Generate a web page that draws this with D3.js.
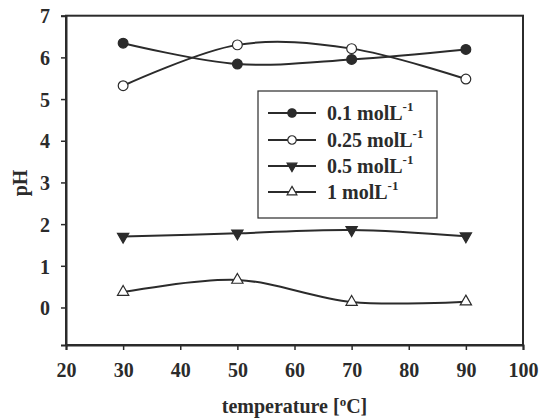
<!DOCTYPE html>
<html><head><meta charset="utf-8">
<script src="https://cdn.jsdelivr.net/npm/d3@7"></script>
<style>body{margin:0;background:#fff}svg{display:block}</style>
</head><body><svg id="c" width="543" height="418"></svg>
<script>
const temps = [30, 50, 70, 90];
const ph01 = [6.34, 5.84, 5.95, 6.19];
const ph025 = [5.32, 6.30, 6.21, 5.48];
const ph05 = [1.70, 1.78, 1.86, 1.71];
const ph1 = [0.37, 0.66, 0.13, 0.14];
const seriesNames = ["0.1 molL", "0.25 molL", "0.5 molL", "1 molL"];
const xTicks = [20, 30, 40, 50, 60, 70, 80, 90, 100];
const yTicks = [0, 1, 2, 3, 4, 5, 6, 7];

const ink = "#2b2b2b";
const svg = d3.select("#c");
const L = 66, R = 523, T = 15.7, B = 345;
const x = d3.scaleLinear().domain([20, 100]).range([L, R]);
const y = d3.scaleLinear().domain([-0.9, 7]).range([B, T]);
const font = "'Liberation Serif', 'Times New Roman', serif";

// frame
svg.append("rect").attr("x", L).attr("y", T).attr("width", R - L).attr("height", B - T)
  .attr("fill", "none").attr("stroke", ink).attr("stroke-width", 2);

const xa = svg.append("g").attr("transform", `translate(0,${B})`)
  .call(d3.axisBottom(x).tickValues(xTicks).tickSize(5).tickPadding(13).tickFormat(d3.format("d")));
const ya = svg.append("g").attr("transform", `translate(${L},0)`)
  .call(d3.axisLeft(y).tickValues(yTicks).tickSize(5).tickPadding(11).tickFormat(d3.format("d")));
[xa, ya].forEach(a => {
  a.select(".domain").attr("stroke", ink).attr("stroke-width", 2);
  a.selectAll(".tick line").attr("stroke", ink).attr("stroke-width", 1.5);
  a.selectAll(".tick text").attr("fill", ink).style("font-family", font)
    .style("font-size", "20px").style("font-weight", "bold");
});
ya.selectAll(".tick text").attr("dy", "0.36em");

// axis titles
svg.append("text").attr("transform", "translate(27,183) rotate(-90)")
  .attr("text-anchor", "middle").attr("fill", ink)
  .style("font-family", font).style("font-size", "20px").style("font-weight", "bold").text("pH");
const xt = svg.append("text").attr("x", (L + R) / 2).attr("y", 413).attr("text-anchor", "middle")
  .attr("fill", ink).style("font-family", font).style("font-size", "20px").style("font-weight", "bold");
xt.append("tspan").text("temperature [");
xt.append("tspan").attr("dy", -7).style("font-size", "13px").text("o");
xt.append("tspan").attr("dy", 7).text("C]");

const series = [
  {vals: ph01, sym: d3.symbolCircle, fill: ink, size: 75},
  {vals: ph025, sym: d3.symbolCircle, fill: "#fff", size: 75},
  {vals: ph05, sym: d3.symbolTriangle, fill: ink, size: 55, rot: 180},
  {vals: ph1, sym: d3.symbolTriangle, fill: "#fff", size: 55}
];
const line = d3.line().x(d => x(d[0])).y(d => y(d[1])).curve(d3.curveCatmullRom.alpha(0));

series.forEach(s => {
  const pts = temps.map((t, i) => [t, s.vals[i]]);
  svg.append("path").attr("d", line(pts)).attr("fill", "none").attr("stroke", ink).attr("stroke-width", 2);
  svg.selectAll(null).data(pts).enter().append("path")
    .attr("d", d3.symbol().type(s.sym).size(s.size))
    .attr("transform", d => `translate(${x(d[0])},${y(d[1])})` + (s.rot ? ` rotate(${s.rot})` : ""))
    .attr("fill", s.fill).attr("stroke", ink).attr("stroke-width", 1.2);
});

// legend
const lg = svg.append("g");
lg.append("rect").attr("x", 258).attr("y", 91).attr("width", 179).attr("height", 127)
  .attr("fill", "#fff").attr("stroke", ink).attr("stroke-width", 1.2);
const rowY = [113, 140, 166, 192];
series.forEach((s, i) => {
  const yy = rowY[i];
  lg.append("line").attr("x1", 268).attr("x2", 316).attr("y1", yy).attr("y2", yy)
    .attr("stroke", ink).attr("stroke-width", 2);
  lg.append("path").attr("d", d3.symbol().type(s.sym).size(s.size * 0.75))
    .attr("transform", `translate(292,${yy})` + (s.rot ? " rotate(180)" : ""))
    .attr("fill", s.fill).attr("stroke", ink).attr("stroke-width", 1.2);
  const t = lg.append("text").attr("x", 327).attr("y", yy + 7).attr("fill", ink)
    .style("font-family", font).style("font-size", "20px").style("font-weight", "bold");
  t.append("tspan").text(seriesNames[i]);
  t.append("tspan").attr("dy", -9).style("font-size", "13px").text("-1");
});
</script></body></html>
